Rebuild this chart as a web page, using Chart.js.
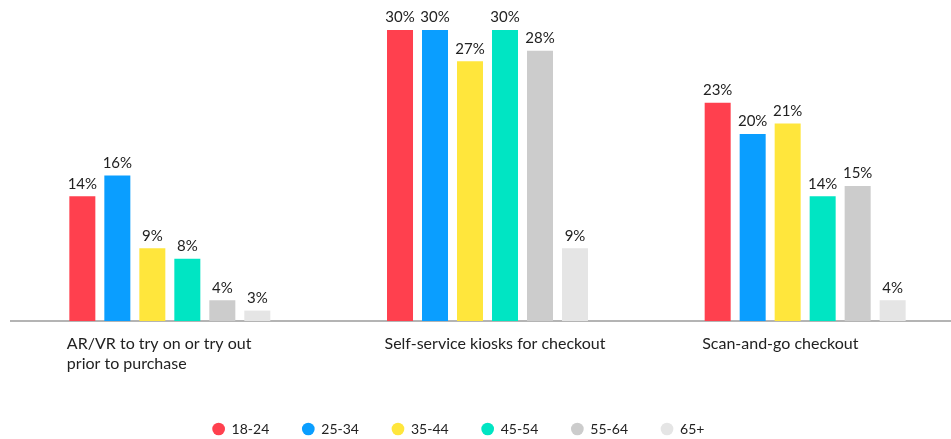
<!DOCTYPE html>
<html>
<head>
<meta charset="utf-8">
<script src="https://cdn.jsdelivr.net/npm/chart.js@4.4.0/dist/chart.umd.min.js"></script>
<style>
  html, body { margin: 0; padding: 0; background: #fff; overflow: hidden; }
  #wrap { width: 975px; height: 439px; }
</style>
</head>
<body>
<div id="wrap"><canvas id="myChart" width="975" height="439"></canvas></div>
<script>
var categories = [
    ['AR/VR to try on or try out', 'prior to purchase'],
    ['Self-service kiosks for checkout'],
    ['Scan-and-go checkout']
];
var ageGroups = ['18-24', '25-34', '35-44', '45-54', '55-64', '65+'];
var age1824 = [14, 30, 23];
var age2534 = [16, 30, 20];
var age3544 = [9, 27, 21];
var age4554 = [8, 30, 14];
var age5564 = [4, 28, 15];
var age65 = [3, 9, 4];
var colors = ['#ff404e', '#0a9eff', '#ffe63c', '#00e5c3', '#cccccc', '#e5e5e5'];

document.addEventListener('DOMContentLoaded', function(){
    var series = [age1824, age2534, age3544, age4554, age5564, age65];
    var datasets = series.map(function(vals, i){
        return {
            label: ageGroups[i],
            data: vals,
            backgroundColor: colors[i],
            borderWidth: 0
        };
    });

    // percent labels on top of bars + left aligned category names under each group
    var barLabels = {
        id: 'barLabels',
        afterDatasetsDraw: function(chart){
            var ctx = chart.ctx;
            ctx.save();
            ctx.font = '15px Lato';
            ctx.fillStyle = '#222';
            ctx.textAlign = 'center';
            ctx.textBaseline = 'bottom';
            chart.data.datasets.forEach(function(ds, i){
                chart.getDatasetMeta(i).data.forEach(function(bar, j){
                    ctx.fillText(ds.data[j] + '%', bar.x, bar.y - 5);
                });
            });

            var xs = chart.scales.x;
            ctx.font = '16px Lato';
            ctx.textAlign = 'left';
            ctx.textBaseline = 'middle';
            chart.data.labels.forEach(function(lines, i){
                var x = xs.getPixelForValue(i) - 103;
                lines.forEach(function(line, k){
                    ctx.fillText(line, x, chart.chartArea.bottom + 23 + k * 20);
                });
            });
            ctx.restore();
        }
    };

    // legend sits lower and a bit left of the canvas centre
    var shiftLegend = {
        id: 'shiftLegend',
        afterLayout: function(chart){
            chart.legend.left -= 29;
            chart.legend.right -= 29;
            chart.legend.top += 60;
            chart.legend.bottom += 60;
        }
    };

    var ctx = document.getElementById('myChart').getContext('2d');
    var myChart = new Chart(ctx, {
        type: 'bar',
        data: { labels: categories, datasets: datasets },
        options: {
            responsive: false,
            animation: false,
            layout: { padding: { top: 30, left: 11, right: 11, bottom: 53 } },
            datasets: { bar: { categoryPercentage: 0.661, barPercentage: 0.743 } },
            scales: {
                x: {
                    grid: { display: false },
                    border: { display: true, color: '#b4b4b4', width: 2 },
                    ticks: { display: false }
                },
                y: { display: false, min: 2, max: 30 }
            },
            plugins: {
                legend: {
                    position: 'bottom',
                    labels: {
                        usePointStyle: true,
                        pointStyle: 'circle',
                        boxWidth: 12,
                        boxHeight: 9,
                        padding: 33,
                        color: '#222',
                        font: { family: 'Lato', size: 14 }
                    }
                },
                tooltip: { enabled: false }
            }
        },
        plugins: [barLabels, shiftLegend]
    });
});
</script>
</body>
</html>
